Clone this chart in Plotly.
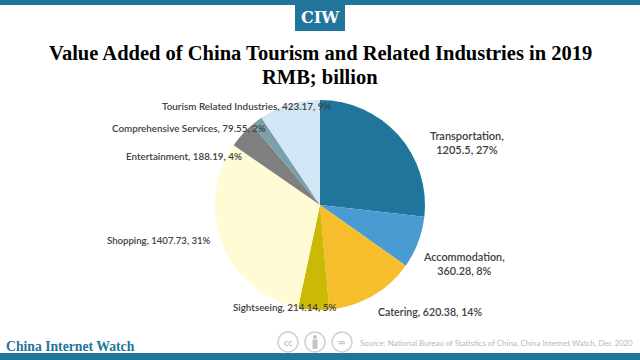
import plotly.graph_objects as go

categories = ["Transportation", "Accommodation", "Catering", "Sightseeing", "Shopping",
              "Entertainment", "Comprehensive Services", "Tourism Related Industries"]
values = [1205.5, 360.28, 620.38, 214.14, 1407.73, 188.19, 79.55, 423.17]
value_labels = ["1205.5", "360.28", "620.38", "214.14", "1407.73", "188.19", "79.55", "423.17"]
percents = [27, 8, 14, 5, 31, 4, 2, 9]

colors = ["#20759C", "#4A9BD1", "#F6BE2C", "#CBB905", "#FFFBD4", "#7F7F7F", "#7AA0AC", "#D2E7F5"]
label_x = [467, 463.5, 430, 284.5, 159, 184, 189, 246]
label_y = [143, 263, 312, 307, 241, 156, 128, 106]
label_size = [11, 10.8, 10.6, 9.8, 9.6, 9.8, 9.8, 9.9]
label_break = [True, True, False, False, False, False, False, False]

W, H = 640, 360
BLUE = "#20759C"

def px(x):
    return x / W

def py(y):
    return 1 - y / H

fig = go.Figure(go.Pie(
    labels=categories, values=values, sort=False, direction="clockwise", rotation=0,
    marker=dict(colors=colors, line=dict(width=0)), textinfo="none", hoverinfo="label+value+percent",
    domain=dict(x=[px(215), px(425)], y=[py(310), py(100)]), showlegend=False,
))

ann = []
for c, v, p, x, y, s, b in zip(categories, value_labels, percents, label_x, label_y, label_size, label_break):
    sep = ",<br>" if b else ", "
    ann.append(dict(text=f"{c}{sep}{v}, {p}%", x=px(x), y=py(y), xref="paper", yref="paper",
                    showarrow=False, align="center", xanchor="center", yanchor="middle",
                    font=dict(family="Lato", size=s, color="#404040", weight=600)))

ann += [
    dict(text="<b>CIW</b>", x=px(320), y=py(17.5), font=dict(family="DejaVu Serif", size=16, color="white")),
    dict(text="<b>Value Added of China Tourism and Related Industries in 2019</b>", x=px(320), y=py(53),
         font=dict(family="Liberation Serif", size=20.5, color="black")),
    dict(text="<b>RMB; billion</b>", x=px(320), y=py(77), font=dict(family="Liberation Serif", size=20.5, color="black")),
    dict(text="<b>China Internet Watch</b>", x=px(4), y=py(346), xanchor="left",
         font=dict(family="Liberation Serif", size=13.7, color=BLUE)),
    dict(text="Source: National Bureau of Statistics of China, China Internet Watch, Dec 2020", x=px(635), y=py(343),
         xanchor="right", font=dict(family="Lato", size=7.9, color="#B8B8B8")),
    dict(text="<b>cc</b>", x=px(288), y=py(342), font=dict(family="Lato", size=9, color="#C4C4C4")),
    dict(text="<b>=</b>", x=px(342), y=py(341.5), font=dict(family="Lato", size=13, color="#C4C4C4")),
]
for a in ann:
    a.setdefault("xref", "paper")
    a.setdefault("yref", "paper")
    a.setdefault("showarrow", False)
    a.setdefault("yanchor", "middle")
    a.setdefault("xanchor", "center")

shapes = [
    dict(type="rect", xref="paper", yref="paper", x0=0, x1=1, y0=py(5), y1=1, fillcolor=BLUE, line_width=0),
    dict(type="rect", xref="paper", yref="paper", x0=px(295), x1=px(345), y0=py(31), y1=py(4), fillcolor=BLUE, line_width=0),
]
for cx in (288, 315, 342):
    shapes.append(dict(type="circle", xref="paper", yref="paper", x0=px(cx - 10), x1=px(cx + 10),
                       y0=py(352), y1=py(332), line=dict(color="#D0D0D0", width=1.5), fillcolor="white"))
shapes.append(dict(type="circle", xref="paper", yref="paper", x0=px(313), x1=px(317), y0=py(339), y1=py(335),
                   fillcolor="#C4C4C4", line_width=0))
shapes.append(dict(type="rect", xref="paper", yref="paper", x0=px(312.5), x1=px(317.5), y0=py(349), y1=py(339.5),
                   fillcolor="#C4C4C4", line_width=0))
shapes.append(dict(type="rect", xref="paper", yref="paper", x0=0, x1=1, y0=0, y1=py(353), fillcolor=BLUE, line_width=0))

fig.update_layout(width=W, height=H, margin=dict(l=0, r=0, t=0, b=0), paper_bgcolor="white",
                  plot_bgcolor="white", annotations=ann, shapes=shapes)
fig.write_html("out.html", config=dict(displayModeBar=False),
               post_script="document.body.style.margin='0';document.body.style.overflow='hidden';")
